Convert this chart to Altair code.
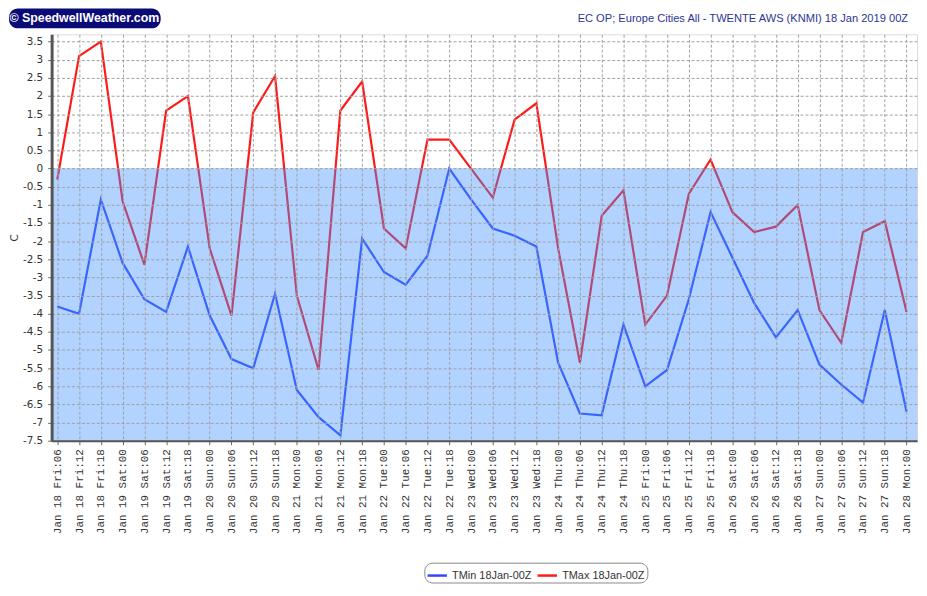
import altair as alt
import pandas as pd

# ---------------- data ----------------
x_labels = [
    "Jan 18 Fri:06", "Jan 18 Fri:12", "Jan 18 Fri:18",
    "Jan 19 Sat:00", "Jan 19 Sat:06", "Jan 19 Sat:12", "Jan 19 Sat:18",
    "Jan 20 Sun:00", "Jan 20 Sun:06", "Jan 20 Sun:12", "Jan 20 Sun:18",
    "Jan 21 Mon:00", "Jan 21 Mon:06", "Jan 21 Mon:12", "Jan 21 Mon:18",
    "Jan 22 Tue:00", "Jan 22 Tue:06", "Jan 22 Tue:12", "Jan 22 Tue:18",
    "Jan 23 Wed:00", "Jan 23 Wed:06", "Jan 23 Wed:12", "Jan 23 Wed:18",
    "Jan 24 Thu:00", "Jan 24 Thu:06", "Jan 24 Thu:12", "Jan 24 Thu:18",
    "Jan 25 Fri:00", "Jan 25 Fri:06", "Jan 25 Fri:12", "Jan 25 Fri:18",
    "Jan 26 Sat:00", "Jan 26 Sat:06", "Jan 26 Sat:12", "Jan 26 Sat:18",
    "Jan 27 Sun:00", "Jan 27 Sun:06", "Jan 27 Sun:12", "Jan 27 Sun:18",
    "Jan 28 Mon:00",
]

tmin = [-3.8, -4.0, -0.85, -2.6, -3.6, -3.95, -2.15, -4.05, -5.25, -5.5,
        -3.45, -6.1, -6.85, -7.35, -1.93, -2.85, -3.2, -2.4, 0.0, -0.85,
        -1.65, -1.85, -2.15, -5.35, -6.75, -6.8, -4.3, -6.0, -5.55, -3.6,
        -1.2, -2.45, -3.7, -4.65, -3.9, -5.4, -5.95, -6.45, -3.9, -6.7]

tmax = [-0.3, 3.1, 3.5, -0.9, -2.65, 1.6, 2.0, -2.2, -4.05, 1.55,
        2.55, -3.5, -5.55, 1.6, 2.4, -1.65, -2.2, 0.8, 0.8, 0.0,
        -0.8, 1.35, 1.8, -2.2, -5.35, -1.3, -0.6, -4.3, -3.5, -0.7,
        0.25, -1.2, -1.75, -1.6, -1.0, -3.9, -4.8, -1.75, -1.45, -3.95]

series_names = ["TMin 18Jan-00Z", "TMax 18Jan-00Z"]
series_colors = ["#3346ff", "#ff1a1a"]

y_ticks = [-7.5 + 0.5 * k for k in range(23)]
below_zero = [0.0, -7.5]

title_text = "EC OP; Europe Cities All - TWENTE AWS (KNMI) 18 Jan 2019 00Z"
logo_text = "\u00a9 SpeedwellWeather.com"

# ---------------- build ----------------
rows = []
for i, lab in enumerate(x_labels):
    rows.append({"idx": i, "label": lab, "series": series_names[0], "value": tmin[i]})
    rows.append({"idx": i, "label": lab, "series": series_names[1], "value": tmax[i]})
df = pd.DataFrame(rows)

label_js = "[" + ",".join("'%s'" % l for l in x_labels) + "]"

W, H = 873, 410

x_enc = alt.X(
    "idx:Q",
    scale=alt.Scale(domain=[-0.26, 39.48], nice=False, zero=False),
    axis=alt.Axis(
        values=list(range(len(x_labels))), tickCount=len(x_labels),
        labelExpr=label_js + "[datum.value]",
        labelAngle=270, labelAlign="right", labelBaseline="middle",
        labelFont="Liberation Mono", labelFontSize=11, labelColor="#333333",
        labelPadding=4, labelOverlap=False, labelBound=False, labelFlush=False,
        tickSize=4, tickColor="#666666",
        grid=True, gridDash=[3, 2], gridColor="#a0a0a0", gridWidth=1,
        domainColor="#555555", domainWidth=2, title=None, zindex=1,
    ),
)

y_enc = alt.Y(
    "value:Q",
    scale=alt.Scale(domain=[-7.5, 3.7], nice=False, zero=False),
    axis=alt.Axis(
        values=y_ticks, tickCount=len(y_ticks),
        labelExpr="'' + datum.value",
        labelFont="DejaVu Sans", labelFontSize=10.5, labelColor="#333333",
        labelPadding=5, labelOverlap=False, labelFlush=False, labelBound=False,
        tickSize=4, tickColor="#666666",
        grid=True, gridDash=[3, 2], gridColor="#a0a0a0", gridWidth=1,
        domainColor="#555555", domainWidth=3,
        title="C", titleFont="DejaVu Sans", titleFontSize=11, titleFontWeight="normal",
        titleColor="#333333", titleAngle=270, titleX=-37, titleY=205,
        titleAlign="center", titleBaseline="middle", zindex=1,
    ),
)

lines = alt.Chart(df).mark_line(strokeWidth=2.2).encode(
    x=x_enc,
    y=y_enc,
    color=alt.Color(
        "series:N",
        scale=alt.Scale(domain=series_names, range=series_colors),
        legend=alt.Legend(
            title=None, orient="none", legendX=376, legendY=533,
            direction="horizontal", strokeColor="#888888", cornerRadius=8,
            padding=2, fillColor="#ffffff",
            labelFont="Liberation Sans", labelFontSize=11, labelColor="#333333",
            symbolType="stroke", symbolStrokeWidth=2.5, symbolSize=380,
            columnPadding=0, labelOffset=4,
        ),
    ),
)

overlay = alt.Chart(pd.DataFrame({"top": [below_zero[0]], "bottom": [below_zero[1]]})).mark_rect(
    fill="#4193ff", opacity=0.4, stroke="#4a7fd0", strokeWidth=0.6, strokeOpacity=0.6
).encode(
    x=alt.value(0), x2=alt.value(W),
    y=alt.Y("top:Q"), y2=alt.Y2("bottom:Q"),
)

dummy = pd.DataFrame({"a": [0]})
logo_bg = alt.Chart(dummy).mark_rect(fill="#0b0b78", cornerRadius=9).encode(
    x=alt.value(-43), x2=alt.value(110), y=alt.value(-26), y2=alt.value(-6)
)
logo_txt = alt.Chart(dummy).mark_text(
    text=logo_text, color="white", font="Liberation Sans", fontSize=12.5,
    fontWeight="bold", align="center", baseline="middle"
).encode(x=alt.value(33), y=alt.value(-16))

title_txt = alt.Chart(dummy).mark_text(
    text=title_text, color="#2b3595", font="Liberation Sans", fontSize=11.2,
    align="right", baseline="middle"
).encode(x=alt.value(W - 9), y=alt.value(-15))

chart = alt.layer(lines, overlay, logo_bg, logo_txt, title_txt).properties(
    width=W, height=H,
    autosize=alt.AutoSizeParams(type="none"),
    padding={"left": 44, "top": 24, "right": 2, "bottom": 146},
).configure_view(strokeWidth=0).configure(background="white")

chart.save("out.html", embed_options={"renderer": "svg", "actions": False})
